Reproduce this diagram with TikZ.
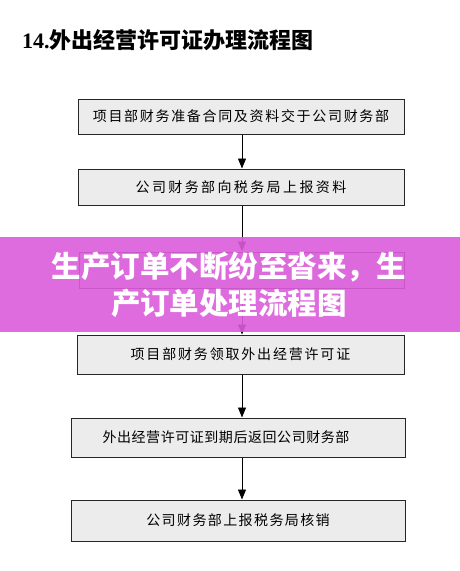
\documentclass[tikz,border=0pt]{standalone}
\usepackage{fontspec}
\setmainfont{Liberation Serif}
\newfontfamily\cjk{Noto Sans CJK SC}
\usetikzlibrary{arrows.meta}
\definecolor{bannercol}{RGB}{220,92,220}
\definecolor{boxfill}{RGB}{236,236,236}
\begin{document}
\begin{tikzpicture}[x=1pt,y=-1pt,
  box/.style={draw=black!85, line width=1pt, fill=boxfill, inner sep=0pt,
    font=\cjk\fontsize{14}{16}\selectfont},
  arr/.style={draw=black, line width=0.9pt, -{Triangle[length=10pt,width=8pt]}},
  titlefont/.style={font=\fontsize{22}{24}\selectfont\bfseries},
  bannertext/.style={text=white, align=center,
    font=\cjk\bfseries\fontsize{29.5}{37}\selectfont}]
\useasboundingbox (0,0) rectangle (460,571);
\node[titlefont, anchor=west, inner sep=0pt] (title) at (22,40) {14.{\cjk 外出经营许可证办理流程图}};
\coordinate (ax) at (242,0);
\node[box, minimum width=326pt, minimum height=35pt] (b1) at (241,116.5)
  {\addfontfeature{LetterSpace=12}项目部财务准备合同及资料交于公司财务部};
\node[box, minimum width=326pt, minimum height=36pt] (b2) at (241,187)
  {\addfontfeature{LetterSpace=17}公司财务部向税务局上报资料};
\node[box, minimum width=325pt, minimum height=36pt] (b3) at (241.5,270) {};
\node[box, minimum width=327pt, minimum height=39pt] (b4) at (240.5,354.5)
  {\addfontfeature{LetterSpace=13}项目部财务领取外出经营许可证};
\node[box, minimum width=334pt, minimum height=39pt] (b5) at (238,437.5)
  {\addfontfeature{LetterSpace=4}外出经营许可证到期后返回公司财务部\hspace*{24pt}};
\node[box, minimum width=334pt, minimum height=41pt] (b6) at (238,520.5)
  {\addfontfeature{LetterSpace=10}公司财务部上报税务局核销};
\draw[arr] (b1.south -| ax) -- (b2.north -| ax);
\draw[arr] (b2.south -| ax) -- (b3.north -| ax);
\draw[arr] (b3.south -| ax) -- (b4.north -| ax);
\draw[arr] (b4.south -| ax) -- (b5.north -| ax);
\draw[arr] (b5.south -| ax) -- (b6.north -| ax);
\fill[bannercol, opacity=0.9] (0,237) rectangle (460,332);
\node[bannertext, inner sep=0pt] (banner) at (229,284.5) {生产订单不断纷至沓来，生\\产订单处理流程图};
\end{tikzpicture}
\end{document}
